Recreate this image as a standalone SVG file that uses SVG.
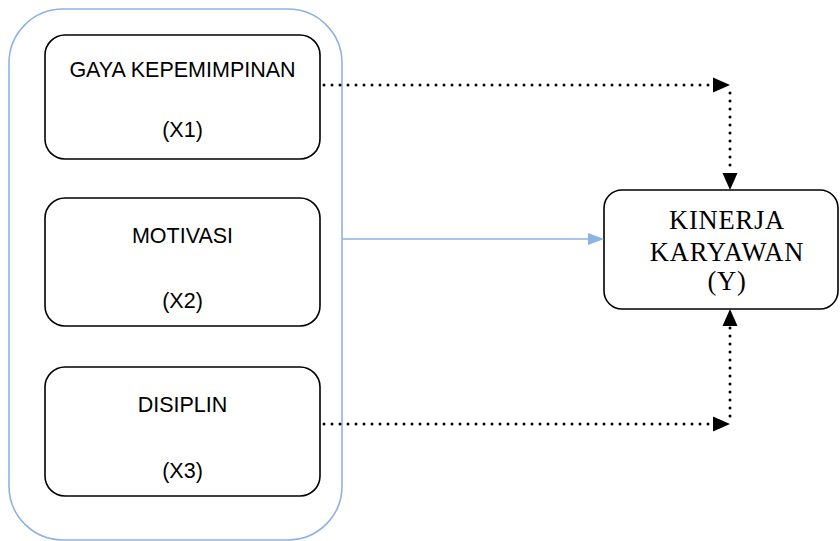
<svg xmlns="http://www.w3.org/2000/svg" width="840" height="541" viewBox="0 0 840 541">
<style>
.box{fill:#fff;stroke:#000;stroke-width:1.6}
.outer{fill:none;stroke:#8db3e2;stroke-width:1.6}
.sans{font-family:"Liberation Sans",Arial,sans-serif;font-size:21.5px;fill:#000;text-anchor:middle}
.serif{font-family:"Liberation Serif","Times New Roman",serif;font-size:26.5px;fill:#000;text-anchor:middle;letter-spacing:0.8px}
.dot{fill:none;stroke:#000;stroke-width:3;stroke-linecap:round;stroke-dasharray:0 8}
.head{fill:#000}
</style>
<rect width="840" height="541" fill="#fff"/>
<g id="group">
<rect class="outer" x="9" y="9" width="333" height="531" rx="54" ry="54"/>
</g>
<g id="x1">
<rect class="box" x="45" y="35" width="275" height="124" rx="20" ry="20"/>
<text class="sans" x="182.5" y="77">GAYA KEPEMIMPINAN</text>
<text class="sans" x="182.5" y="137">(X1)</text>
</g>
<g id="x2">
<rect class="box" x="45" y="198" width="275" height="128" rx="20" ry="20"/>
<text class="sans" x="182.5" y="243">MOTIVASI</text>
<text class="sans" x="182.5" y="308">(X2)</text>
</g>
<g id="x3">
<rect class="box" x="45" y="367" width="275" height="129" rx="20" ry="20"/>
<text class="sans" x="182.5" y="412">DISIPLIN</text>
<text class="sans" x="182.5" y="478">(X3)</text>
</g>
<g id="y">
<rect class="box" x="604" y="190" width="234" height="119" rx="18" ry="18"/>
<text class="serif" x="727" y="229">KINERJA</text>
<text class="serif" x="727" y="261">KARYAWAN</text>
<text class="serif" x="727" y="290">(Y)</text>
</g>
<g id="connectors">
<path class="dot" d="M324 85 H712"/>
<polygon class="head" points="713,77.5 730,85 713,92.5"/>
<path class="dot" d="M730 93 V172"/>
<polygon class="head" points="722.5,173 737.5,173 730,190"/>
<path class="dot" d="M324 424 H712"/>
<polygon class="head" points="713,416.5 730,424 713,431.5"/>
<path class="dot" d="M730 416 V327"/>
<polygon class="head" points="722.5,326 737.5,326 730,309"/>
<line x1="342" y1="239" x2="590" y2="239" stroke="#8db3e2" stroke-width="1.6"/>
<polygon points="588,233 604,239 588,245" fill="#8db3e2"/>
</g>
</svg>
